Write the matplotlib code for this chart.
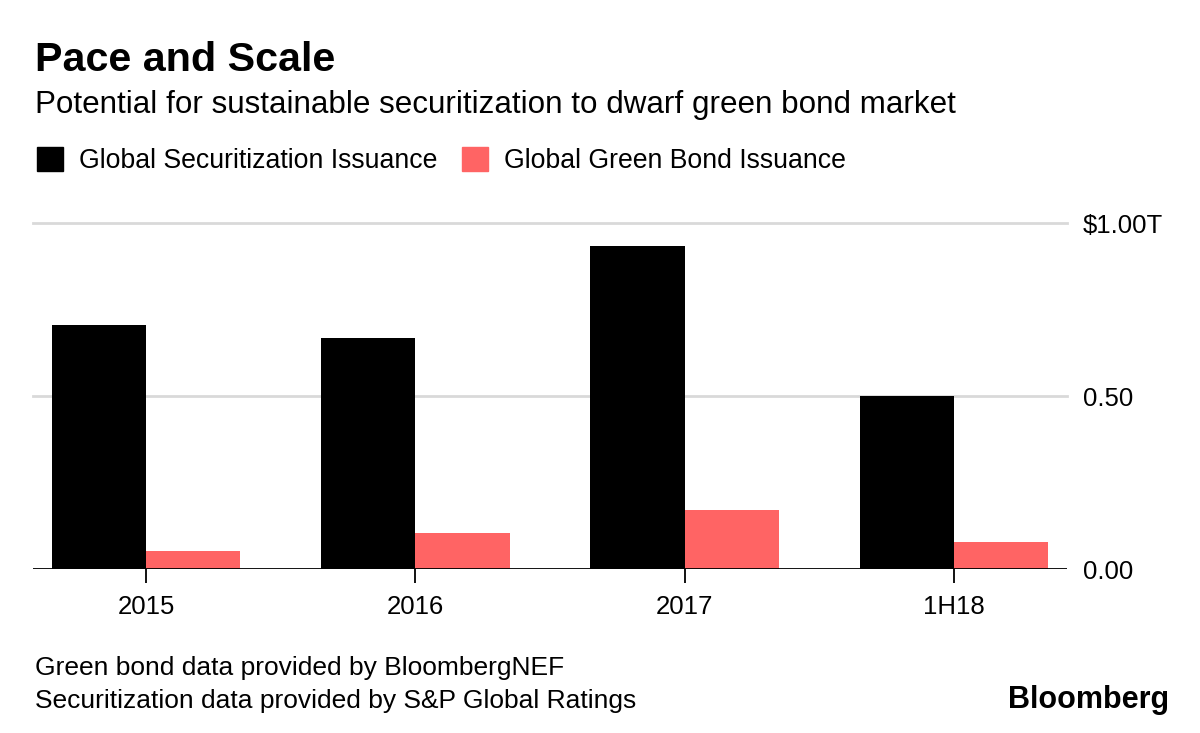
import numpy as np
import matplotlib
matplotlib.use("Agg")
import matplotlib.pyplot as plt
import matplotlib.patches as mpatches

plt.rcParams["font.family"] = ["Liberation Sans", "DejaVu Sans"]

periods = ["2015", "2016", "2017", "1H18"]
securitization = [0.705, 0.668, 0.935, 0.50]   # $ trillions
green_bonds = [0.052, 0.104, 0.171, 0.078]
y_ticks = [0.0, 0.5, 1.0]
y_labels = ["0.00", "0.50", "$1.00T"]

black = "#000000"
red = "#ff6464"
grid = "#d9d9d9"

fig = plt.figure(figsize=(12, 7.33), dpi=100)
ax = fig.add_axes([0.0275, 0.2237, 0.8615, 0.4720])

x = np.arange(len(periods))
w = 0.35
ax.bar(x - w / 2, securitization, width=w, color=black, zorder=3)
ax.bar(x + w / 2, green_bonds, width=w, color=red, zorder=3)

ax.set_xlim(-0.42, 3.42)
ax.set_ylim(0, 1.0)

# gridlines
for t in y_ticks[1:]:
    ax.axhline(t, color=grid, lw=2, zorder=1, clip_on=False)
ax.axhline(0, color="black", lw=1.3, zorder=4)

for s in ax.spines.values():
    s.set_visible(False)

ax.set_xticks(x)
ax.set_xticklabels(periods, fontsize=18.5)
ax.tick_params(axis="x", length=10, width=1.3, color="black", pad=9)

ax.yaxis.tick_right()
ax.set_yticks(y_ticks)
ax.set_yticklabels(y_labels, fontsize=18.5)
ax.tick_params(axis="y", length=0, pad=11.5)

# titles
fig.text(0.029, 0.918, "Pace and Scale", fontsize=29.7, fontweight="bold", va="center")
fig.text(0.029, 0.857, "Potential for sustainable securitization to dwarf green bond market",
         fontsize=22.6, va="center")

# legend
patches = [mpatches.Patch(color=black, label="Global Securitization Issuance"),
           mpatches.Patch(color=red, label="Global Green Bond Issuance")]
fig.legend(handles=patches, loc="center left", bbox_to_anchor=(0.022, 0.781), ncol=2,
           frameon=False, fontsize=19.2, handlelength=0.98, handleheight=1.0,
           handletextpad=0.6, columnspacing=0.9, borderaxespad=0)

# footer
fig.text(0.029, 0.088, "Green bond data provided by BloombergNEF", fontsize=19, va="center")
fig.text(0.029, 0.043, "Securitization data provided by S&P Global Ratings", fontsize=19, va="center")
fig.text(0.974, 0.045, "Bloomberg", fontsize=22, fontweight="bold", ha="right", va="center")

fig.savefig("out.png", dpi=100, facecolor="white")
